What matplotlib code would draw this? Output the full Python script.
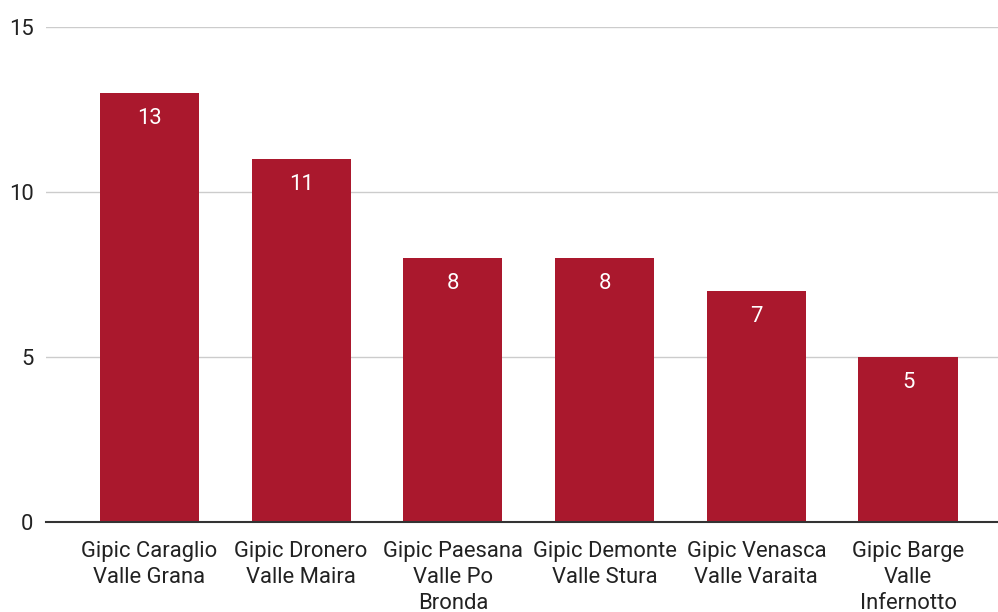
import matplotlib.pyplot as plt

plt.rcParams['font.family'] = ['Roboto', 'DejaVu Sans']

sites = [
    'Gipic Caraglio\nValle Grana',
    'Gipic Dronero\nValle Maira',
    'Gipic Paesana\nValle Po\nBronda',
    'Gipic Demonte\nValle Stura',
    'Gipic Venasca\nValle Varaita',
    'Gipic Barge\nValle\nInfernotto',
]
counts = [13, 11, 8, 8, 7, 5]
y_ticks = [0, 5, 10, 15]

bar_color = '#AA182D'
fs = 15.8

fig = plt.figure(figsize=(9.98, 6.12), dpi=100)
ax = fig.add_axes([46 / 998, 90 / 612, 952 / 998, 495 / 612])

x = range(len(sites))
bars = ax.bar(x, counts, width=0.653, color=bar_color, zorder=3)

for rect, v in zip(bars, counts):
    ax.annotate(str(v), (rect.get_x() + rect.get_width() / 2, v),
                xytext=(0, -18.5), textcoords='offset points',
                ha='center', va='center', color='white', fontsize=fs, zorder=4)

ax.set_xlim(-0.682, 5.593)
ax.set_ylim(0, 15)
ax.set_yticks(y_ticks)
ax.set_xticks(list(x))
ax.set_xticklabels(sites, fontsize=fs, linespacing=1.3, color='#222222')
ax.tick_params(axis='y', length=0, pad=9, labelsize=fs, labelcolor='#222222')
ax.tick_params(axis='x', length=0, pad=14)

ax.grid(axis='y', color='#cccccc', linewidth=1, zorder=0)
for s in ['top', 'right', 'left']:
    ax.spines[s].set_visible(False)
ax.spines['bottom'].set_color('#333333')
ax.spines['bottom'].set_linewidth(1.5)
ax.spines['bottom'].set_zorder(5)

fig.savefig('out.png', dpi=100)
